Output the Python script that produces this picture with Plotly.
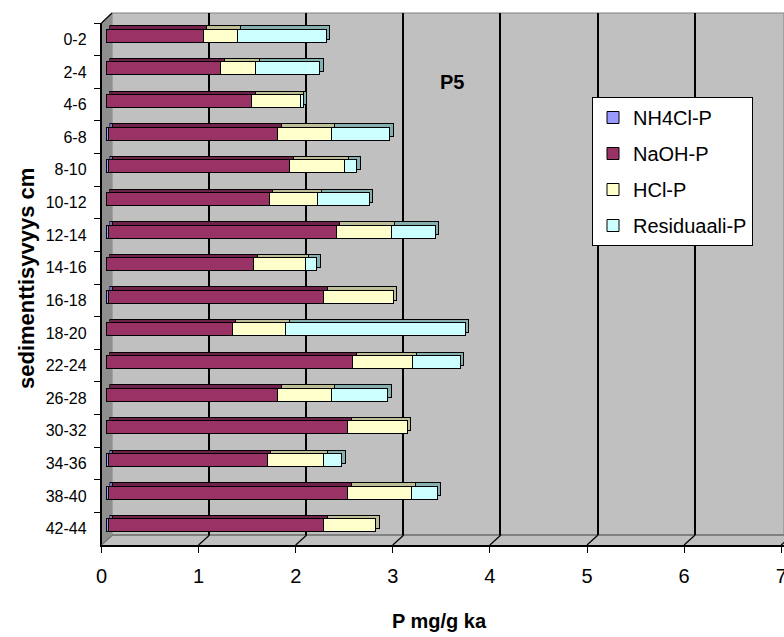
import plotly.graph_objects as go

# ---- data ----
depths = ["0-2", "2-4", "4-6", "6-8", "8-10", "10-12", "12-14", "14-16",
          "16-18", "18-20", "22-24", "26-28", "30-32", "34-36", "38-40", "42-44"]
nh4cl = [0, 0, 0, 0.03, 0.03, 0, 0.03, 0, 0.03, 0, 0, 0, 0, 0.03, 0.03, 0.03]
naoh = [1.00, 1.18, 1.50, 1.74, 1.86, 1.68, 2.34, 1.52, 2.21, 1.30, 2.54, 1.77, 2.49, 1.63, 2.46, 2.21]
hcl = [0.35, 0.36, 0.50, 0.55, 0.57, 0.50, 0.57, 0.53, 0.72, 0.55, 0.62, 0.55, 0.61, 0.58, 0.66, 0.54]
resid = [0.92, 0.66, 0.03, 0.60, 0.12, 0.53, 0.45, 0.12, 0, 1.85, 0.49, 0.58, 0, 0.19, 0.26, 0]
series_names = ["NH4Cl-P", "NaOH-P", "HCl-P", "Residuaali-P"]
x_ticks = [0, 1, 2, 3, 4, 5, 6, 7]

front_colors = ["#9999FF", "#993366", "#FFFFCC", "#CCFFFF"]
depth_colors = ["#6f6fbf", "#6e2249", "#bdbd96", "#86b0b0"]

W, H = 784, 637
S = 97.1  # pixels per unit on the value axis
FONT = "Arial, Liberation Sans, sans-serif"


def px(x):
    return x / W


def py(y):
    return 1 - y / H


series = [nh4cl, naoh, hcl, resid]
fig = go.Figure()

# back wall grid holder
fig.add_trace(go.Scatter(x=[None], y=[None], xaxis="x", yaxis="y",
                         showlegend=False, hoverinfo="skip"))

# depth (top/side faces) bars
for name, vals, col in zip(series_names, series, depth_colors):
    fig.add_trace(go.Bar(y=depths, x=vals, orientation="h", xaxis="x2", yaxis="y2",
                         marker=dict(color=col, line=dict(color="black", width=1)),
                         showlegend=False, hoverinfo="skip"))

# front faces
for name, vals, col in zip(series_names, series, front_colors):
    fig.add_trace(go.Bar(y=depths, x=vals, orientation="h", xaxis="x3", yaxis="y3",
                         name=name, legendgroup=name,
                         marker=dict(color=col, line=dict(color="black", width=1))))

# front axis holder
fig.add_trace(go.Scatter(y=depths, x=[None] * len(depths), xaxis="x4", yaxis="y4",
                         mode="markers", showlegend=False, hoverinfo="skip"))

hidden = dict(visible=False, automargin=False)
fig.update_layout(
    width=W, height=H, margin=dict(l=0, r=0, t=0, b=0, autoexpand=False),
    paper_bgcolor="white", plot_bgcolor="rgba(0,0,0,0)",
    barmode="stack", bargap=0.6,
    font=dict(family=FONT, color="black"),
    xaxis=dict(domain=[px(112), 1], range=[0, (W - 112) / S], anchor="y",
               tickmode="array", tickvals=x_ticks[1:], showticklabels=False, ticks="",
               showgrid=True, gridcolor="black", gridwidth=1.5, zeroline=False,
               showline=False, automargin=False),
    yaxis=dict(domain=[py(535), py(13)], anchor="x", showgrid=False, showticklabels=False,
               zeroline=False, ticks="", automargin=False),
    xaxis2=dict(domain=[px(109.5), 1], range=[0, (W - 109.5) / S], anchor="y2", **hidden),
    yaxis2=dict(domain=[py(538.2), py(16.2)], anchor="x2", type="category",
                categoryarray=depths, range=[15.5, -0.5], **hidden),
    xaxis3=dict(domain=[px(106), 1], range=[0, (W - 106) / S], anchor="y3", **hidden),
    yaxis3=dict(domain=[py(541.5), py(19.5)], anchor="x3", type="category",
                categoryarray=depths, range=[15.5, -0.5], **hidden),
    xaxis4=dict(domain=[px(101.5), 1], range=[0, (W - 101.5) / S], anchor="y4",
                tickmode="array", tickvals=x_ticks, ticks="outside", ticklen=6,
                tickcolor="black", showline=True, linecolor="black", linewidth=1.5,
                showgrid=False, zeroline=False, ticklabeloverflow="allow",
                ticklabelstandoff=6, automargin=False,
                tickfont=dict(size=20, family=FONT)),
    yaxis4=dict(domain=[py(545), py(23)], anchor="x4", type="category",
                categoryarray=depths, range=[15.5, -0.5], tickson="boundaries",
                ticks="outside", ticklen=6, tickcolor="black", showline=True,
                linecolor="black", linewidth=1.5, showgrid=False,
                ticklabelstandoff=10, automargin=False,
                tickfont=dict(size=16, family=FONT)),
    legend=dict(x=px(592), y=py(97), xanchor="left", yanchor="top",
                bgcolor="white", bordercolor="black", borderwidth=1,
                font=dict(size=20, family=FONT), traceorder="grouped",
                tracegroupgap=7, itemwidth=30),
    showlegend=True,
)

shapes = []
# back wall
shapes.append(dict(type="rect", xref="paper", yref="paper", x0=px(112), x1=1,
                   y0=py(535), y1=py(13), fillcolor="#C0C0C0",
                   line=dict(color="#808080", width=1), layer="below"))
# left wall
shapes.append(dict(type="path", xref="paper", yref="paper",
                   path=f"M {px(101.5)} {py(23)} L {px(112)} {py(13)} L {px(112)} {py(535)} L {px(101.5)} {py(545)} Z",
                   fillcolor="#8f8f8f", line=dict(width=0), layer="below"))
# floor
shapes.append(dict(type="path", xref="paper", yref="paper",
                   path=f"M {px(101.5)} {py(545)} L {px(112)} {py(535)} L 1 {py(535)} L 1 {py(545)} Z",
                   fillcolor="#C0C0C0", line=dict(width=0), layer="below"))
shapes.append(dict(type="line", xref="paper", yref="paper", x0=px(112), x1=1,
                   y0=py(535), y1=py(535), line=dict(color="#808080", width=2), layer="below"))
# left wall top edge
shapes.append(dict(type="line", xref="paper", yref="paper", x0=px(101.5), x1=px(112),
                   y0=py(23), y1=py(13), line=dict(color="black", width=1.2)))
# floor grid slants from each front tick to the back wall
for v in x_ticks:
    shapes.append(dict(type="line", xref="x4", xsizemode="pixel", xanchor=v, x0=0, x1=11,
                       yref="paper", y0=py(545), y1=py(535),
                       line=dict(color="black" if v > 0 else "#707070", width=1.2)))
fig.update_layout(shapes=shapes)

fig.add_annotation(x=px(452), y=py(82), xref="paper", yref="paper", text="<b>P5</b>",
                   xanchor="center", yanchor="middle",
                   showarrow=False, font=dict(size=20, family=FONT))
fig.add_annotation(x=px(440), y=py(621), xref="paper", yref="paper", text="<b>P mg/g ka</b>",
                   xanchor="center", yanchor="middle",
                   showarrow=False, font=dict(size=20, family=FONT))
fig.add_annotation(x=px(26), y=py(279), xref="paper", yref="paper",
                   text="<b>sedimenttisyvyys cm</b>", textangle=-90,
                   xanchor="center", yanchor="middle",
                   showarrow=False, font=dict(size=22, family=FONT))

fig.write_html("out.html")
